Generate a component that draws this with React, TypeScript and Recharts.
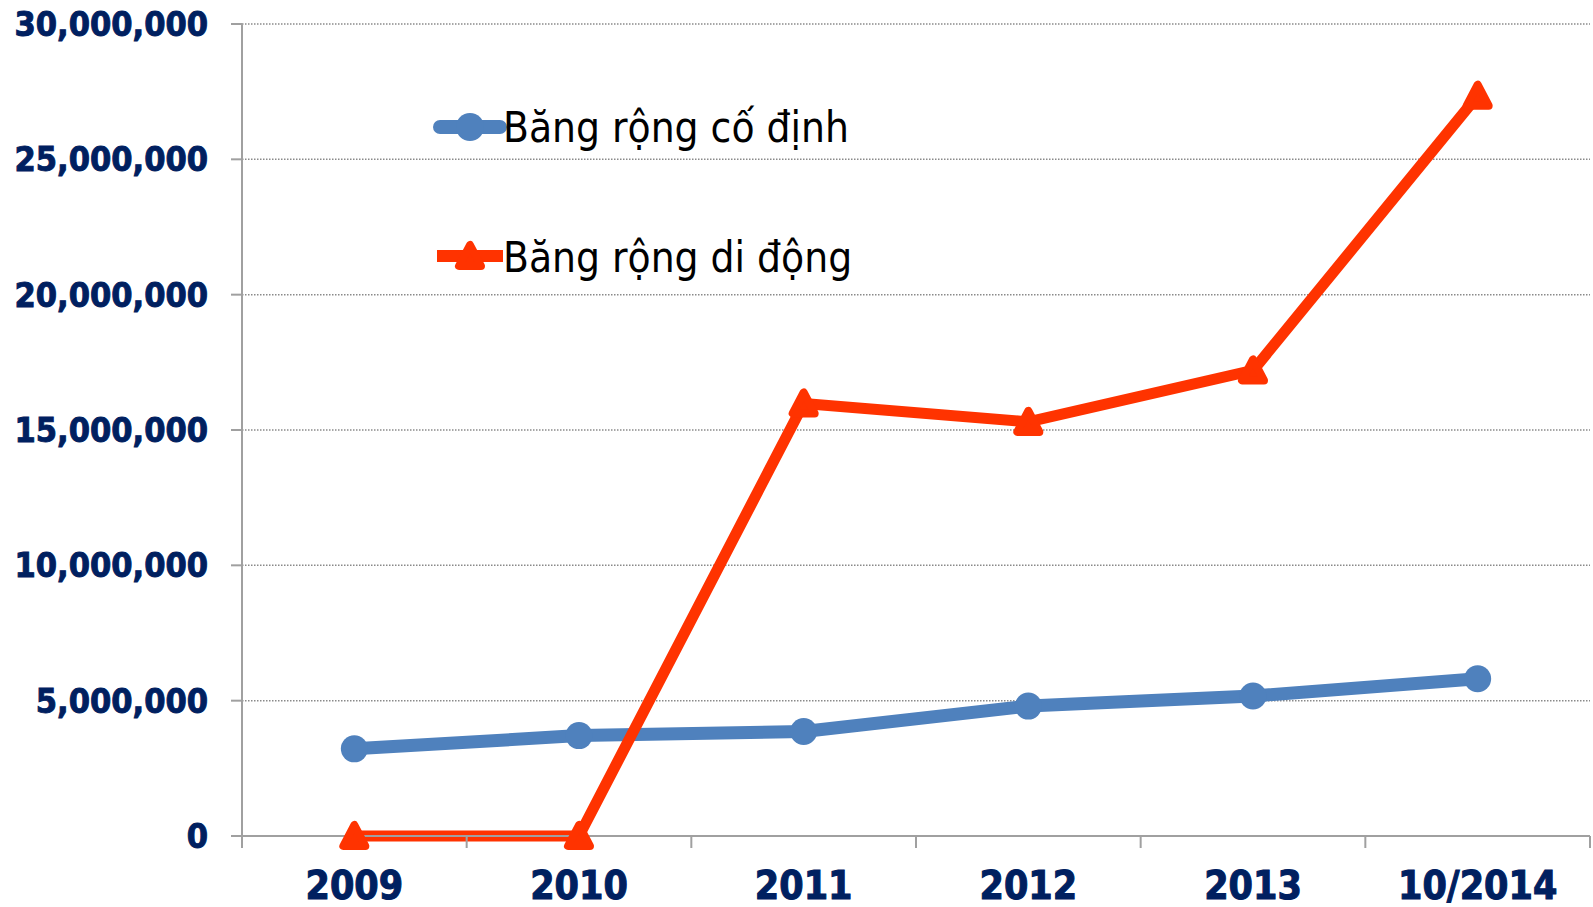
import React from 'react';
import { LineChart, Line, XAxis, YAxis, CartesianGrid, Legend } from 'recharts';

const categories = ['2009', '2010', '2011', '2012', '2013', '10/2014'];
const fixedBroadband = [3220000, 3710000, 3860000, 4800000, 5170000, 5810000];
const mobileBroadband = [0, 0, 15980000, 15300000, 17200000, 27350000];
const yTicks = [0, 5000000, 10000000, 15000000, 20000000, 25000000, 30000000];
const seriesNames = ['Băng rộng cố định', 'Băng rộng di động'];

const data = categories.map((c, i) => ({
  year: c,
  fixed: fixedBroadband[i],
  mobile: mobileBroadband[i],
}));

const W = 1593;
const H = 907;
const M_TOP = 24;
const M_RIGHT = 3;
const Y_W = 242;
const X_H = 71;
const PLOT_W = W - Y_W - M_RIGHT;
const PLOT_BOTTOM = H - X_H;
const BAND = PLOT_W / categories.length;

const BLUE = '#4f81bd';
const RED = '#ff3300';
const NAVY = '#002060';
const AXIS = '#a0a0a0';
const LABEL_FONT = '"DejaVu Sans Condensed", "DejaVu Sans", sans-serif';

const CircleDot = (props: any) => {
  const { cx, cy } = props;
  if (cx == null || cy == null) return null;
  return <circle cx={cx} cy={cy} r={13.5} fill={BLUE} />;
};

const triPath = (cx: number, cy: number) =>
  `M${cx},${cy - 11} L${cx - 11},${cy + 10} L${cx + 11},${cy + 10} Z`;

const TriDot = (props: any) => {
  const { cx, cy } = props;
  if (cx == null || cy == null) return null;
  return (
    <path d={triPath(cx, cy)} fill={RED} stroke={RED} strokeWidth={8} strokeLinejoin="round" />
  );
};

const XTick = (props: any) => {
  const { x, payload, index } = props;
  const left = x - BAND / 2;
  const right = x + BAND / 2;
  return (
    <g>
      <line x1={left} y1={PLOT_BOTTOM} x2={left} y2={PLOT_BOTTOM + 12} stroke={AXIS} strokeWidth={2} />
      {index === categories.length - 1 && (
        <line x1={right} y1={PLOT_BOTTOM} x2={right} y2={PLOT_BOTTOM + 12} stroke={AXIS} strokeWidth={2} />
      )}
      <text
        x={x}
        y={PLOT_BOTTOM + 63}
        textAnchor="middle"
        fill={NAVY}
        stroke={NAVY}
        strokeWidth={1}
        fontFamily={LABEL_FONT}
        fontWeight="bold"
        fontSize={39}
      >
        {payload.value}
      </text>
    </g>
  );
};

const LegendContent = () => (
  <svg width={480} height={200} style={{ display: 'block' }}>
    <g>
      <line x1={12} y1={37} x2={72} y2={37} stroke={BLUE} strokeWidth={14} strokeLinecap="round" />
      <circle cx={42} cy={37} r={14} fill={BLUE} />
      <text x={75} y={52} fontFamily={LABEL_FONT} fontSize={42} fill="#000">
        {seriesNames[0]}
      </text>
    </g>
    <g>
      <line x1={9} y1={166} x2={75} y2={166} stroke={RED} strokeWidth={12} />
      <path d={triPath(42, 166)} fill={RED} stroke={RED} strokeWidth={8} strokeLinejoin="round" />
      <text x={75} y={182} fontFamily={LABEL_FONT} fontSize={42} fill="#000">
        {seriesNames[1]}
      </text>
    </g>
  </svg>
);

export default function App() {
  return (
    <div style={{ position: 'absolute', left: 0, top: 0, width: W, height: H, background: '#fff' }}>
      <LineChart
        width={W}
        height={H}
        data={data}
        margin={{ top: M_TOP, right: M_RIGHT, left: 0, bottom: 0 }}
      >
        <CartesianGrid vertical={false} stroke="#8a8a8a" strokeWidth={1.5} strokeDasharray="1.5 1.5" />
        <XAxis
          dataKey="year"
          scale="band"
          height={X_H}
          axisLine={{ stroke: AXIS, strokeWidth: 2 }}
          tickLine={false}
          tick={<XTick />}
          interval={0}
        />
        <YAxis
          width={Y_W}
          domain={[0, 30000000]}
          ticks={yTicks}
          interval={0}
          axisLine={{ stroke: AXIS, strokeWidth: 2 }}
          tickLine={{ stroke: AXIS, strokeWidth: 2 }}
          tickSize={11}
          tickMargin={23}
          tickFormatter={(v: number) => v.toLocaleString('en-US')}
          tick={{ fill: NAVY, stroke: NAVY, strokeWidth: 0.9, fontFamily: LABEL_FONT, fontWeight: 'bold', fontSize: 34 }}
        />
        <Legend
          layout="vertical"
          verticalAlign="middle"
          align="center"
          content={<LegendContent />}
          wrapperStyle={{ left: 428, top: 90, width: 480, height: 200 }}
        />
        <Line
          type="linear"
          dataKey="fixed"
          name={seriesNames[0]}
          stroke={BLUE}
          strokeWidth={13}
          strokeLinejoin="round"
          dot={<CircleDot />}
          activeDot={false}
          isAnimationActive={false}
        />
        <Line
          type="linear"
          dataKey="mobile"
          name={seriesNames[1]}
          stroke={RED}
          strokeWidth={11}
          strokeLinejoin="round"
          dot={<TriDot />}
          activeDot={false}
          isAnimationActive={false}
        />
      </LineChart>
    </div>
  );
}
